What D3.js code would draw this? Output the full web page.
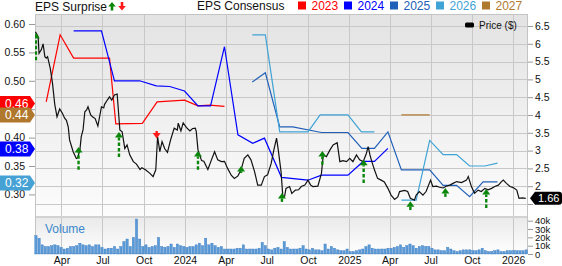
<!DOCTYPE html>
<html>
<head>
<meta charset="utf-8">
<script src="https://cdn.jsdelivr.net/npm/d3@7"></script>
<style>
body { margin: 0; background: #fff; }
svg { display: block; font-family: "Liberation Sans", Arial, sans-serif; }
</style>
</head>
<body>
<svg id="chart" width="562" height="266"></svg>
<script>
// ---- data ----
const priceSeries = [
  ['2023-02-02', 6.34], ['2023-02-08', 6.20], ['2023-02-10', 5.73], ['2023-02-15', 5.83], ['2023-02-19', 6.00],
  ['2023-02-23', 5.64], ['2023-02-26', 5.60], ['2023-03-01', 5.64], ['2023-03-07', 5.31], ['2023-03-12', 4.89],
  ['2023-03-17', 4.30], ['2023-03-22', 3.95], ['2023-03-28', 4.17], ['2023-04-03', 4.05], ['2023-04-08', 3.91],
  ['2023-04-12', 3.85], ['2023-04-16', 3.67], ['2023-04-19', 3.30], ['2023-04-27', 2.97], ['2023-05-04', 2.78],
  ['2023-05-07', 2.80], ['2023-05-12', 3.02], ['2023-05-15', 3.39], ['2023-05-19', 3.58], ['2023-05-23', 4.09],
  ['2023-05-27', 4.14], ['2023-05-30', 4.23], ['2023-06-05', 4.00], ['2023-06-09', 3.95], ['2023-06-15', 3.90],
  ['2023-06-21', 3.69], ['2023-06-29', 4.23], ['2023-07-04', 4.20], ['2023-07-06', 4.30], ['2023-07-12', 4.42],
  ['2023-07-17', 4.51], ['2023-07-22', 4.42], ['2023-07-28', 4.56], ['2023-08-03', 4.59], ['2023-08-09', 3.58],
  ['2023-08-14', 3.53], ['2023-08-20', 3.06], ['2023-08-25', 3.16], ['2023-08-31', 2.88], ['2023-09-08', 2.69],
  ['2023-09-15', 2.62], ['2023-09-23', 2.47], ['2023-09-27', 2.52], ['2023-10-05', 2.46], ['2023-10-15', 2.36],
  ['2023-10-22', 2.27], ['2023-10-28', 2.46], ['2023-11-01', 3.39], ['2023-11-06', 2.97], ['2023-11-11', 3.25],
  ['2023-11-17', 3.05], ['2023-11-23', 2.95], ['2023-11-30', 3.30], ['2023-12-08', 3.63], ['2023-12-15', 3.58],
  ['2023-12-17', 3.77], ['2023-12-23', 3.55], ['2023-12-28', 3.78], ['2024-01-04', 3.65], ['2024-01-12', 3.55],
  ['2024-01-18', 3.62], ['2024-01-24', 3.63], ['2024-01-26', 3.55], ['2024-01-30', 3.02], ['2024-02-07', 2.72],
  ['2024-02-12', 2.70], ['2024-02-21', 2.47], ['2024-02-29', 2.74], ['2024-03-07', 2.97], ['2024-03-14', 2.74],
  ['2024-03-22', 2.69], ['2024-03-29', 2.70], ['2024-04-05', 2.50], ['2024-04-13', 2.31], ['2024-04-20', 2.22],
  ['2024-04-28', 2.29], ['2024-05-05', 2.46], ['2024-05-12', 2.78], ['2024-05-20', 2.88], ['2024-05-27', 2.74],
  ['2024-06-04', 2.41], ['2024-06-11', 2.03], ['2024-06-19', 2.03], ['2024-06-26', 2.27], ['2024-07-03', 2.32],
  ['2024-07-11', 2.64], ['2024-07-17', 3.02], ['2024-07-23', 3.35], ['2024-07-27', 3.00], ['2024-08-02', 2.41],
  ['2024-08-06', 1.70], ['2024-08-10', 1.72], ['2024-08-13', 1.94], ['2024-08-21', 1.99], ['2024-08-26', 1.80],
  ['2024-09-03', 1.89], ['2024-09-10', 1.90], ['2024-09-16', 1.99], ['2024-09-24', 2.03], ['2024-10-01', 2.17],
  ['2024-10-07', 2.03], ['2024-10-12', 1.99], ['2024-10-23', 2.00], ['2024-10-31', 2.36], ['2024-11-04', 2.88],
  ['2024-11-11', 2.83], ['2024-11-19', 3.02], ['2024-11-26', 3.16], ['2024-12-05', 3.22], ['2024-12-11', 2.69],
  ['2024-12-18', 2.72], ['2024-12-26', 2.69], ['2025-01-02', 2.78], ['2025-01-09', 2.69], ['2025-01-17', 2.88],
  ['2025-01-24', 2.74], ['2025-02-01', 2.69], ['2025-02-08', 2.92], ['2025-02-12', 3.11], ['2025-02-16', 2.88],
  ['2025-02-19', 2.74], ['2025-02-26', 2.46], ['2025-03-05', 2.22], ['2025-03-13', 2.17], ['2025-03-20', 2.12],
  ['2025-03-28', 1.94], ['2025-04-04', 1.75], ['2025-04-12', 1.63], ['2025-04-19', 1.70], ['2025-04-23', 1.85],
  ['2025-05-04', 1.88], ['2025-05-11', 1.85], ['2025-05-17', 1.66], ['2025-05-26', 1.61], ['2025-05-30', 1.75],
  ['2025-06-06', 1.85], ['2025-06-14', 1.75], ['2025-06-21', 1.85], ['2025-07-01', 2.17], ['2025-07-06', 1.99],
  ['2025-07-14', 2.00], ['2025-07-21', 1.97], ['2025-07-29', 1.95], ['2025-08-05', 2.00], ['2025-08-13', 2.03],
  ['2025-08-20', 2.08], ['2025-08-28', 2.13], ['2025-09-08', 2.10], ['2025-09-19', 2.17], ['2025-09-23', 2.27],
  ['2025-09-30', 1.99], ['2025-10-07', 1.80], ['2025-10-15', 1.89], ['2025-10-22', 1.85], ['2025-10-30', 1.94],
  ['2025-11-06', 1.90], ['2025-11-14', 1.94], ['2025-11-21', 1.99], ['2025-11-29', 2.03], ['2025-12-06', 2.13],
  ['2025-12-10', 2.17], ['2025-12-17', 2.08], ['2025-12-25', 1.99], ['2026-01-01', 1.96], ['2026-01-09', 1.89],
  ['2026-01-14', 1.66], ['2026-01-21', 1.67], ['2026-01-29', 1.66]
];

// consensus EPS per fiscal year
const eps2023 = [
  ['2023-02-26', 0.463], ['2023-03-29', 0.581], ['2023-04-28', 0.540], ['2023-07-17', 0.540], ['2023-07-31', 0.424],
  ['2023-09-28', 0.425], ['2023-10-31', 0.463], ['2023-12-31', 0.466], ['2024-01-30', 0.456], ['2024-02-25', 0.457],
  ['2024-03-29', 0.455]
];
const eps2024 = [
  ['2023-04-28', 0.588], ['2023-06-29', 0.588], ['2023-07-28', 0.500], ['2023-09-22', 0.500], ['2023-10-29', 0.491],
  ['2023-11-28', 0.490], ['2023-12-31', 0.482], ['2024-01-30', 0.456], ['2024-02-27', 0.456], ['2024-03-29', 0.560],
  ['2024-04-28', 0.405], ['2024-05-31', 0.390], ['2024-06-26', 0.399], ['2024-08-03', 0.330], ['2024-10-01', 0.325],
  ['2024-10-31', 0.334], ['2024-12-29', 0.334], ['2025-02-01', 0.358], ['2025-02-26', 0.358], ['2025-03-28', 0.381]
];
const eps2025 = [
  ['2024-05-30', 0.498], ['2024-06-28', 0.514], ['2024-07-30', 0.419], ['2024-08-28', 0.419], ['2024-10-31', 0.409],
  ['2024-12-29', 0.409], ['2025-01-29', 0.381], ['2025-02-26', 0.381], ['2025-03-28', 0.410], ['2025-04-27', 0.343],
  ['2025-06-29', 0.343], ['2025-07-29', 0.316], ['2025-08-28', 0.316], ['2025-09-26', 0.296], ['2025-10-26', 0.322],
  ['2025-11-27', 0.322]
];
const eps2026 = [
  ['2024-05-30', 0.581], ['2024-06-28', 0.581], ['2024-07-30', 0.410], ['2024-10-01', 0.410], ['2024-10-28', 0.440],
  ['2024-12-29', 0.440], ['2025-01-28', 0.410], ['2025-02-26', 0.410], ['2025-03-15', null],
  ['2025-04-27', 0.290], ['2025-05-30', 0.290], ['2025-06-29', 0.395], ['2025-07-29', 0.370], ['2025-08-28', 0.370],
  ['2025-09-26', 0.350], ['2025-10-30', 0.350], ['2025-11-27', 0.355]
];
const eps2027 = [['2025-04-27', 0.440], ['2025-06-29', 0.440]];

const seriesYears = ['2023', '2024', '2025', '2026', '2027'];
const seriesColors = ['#ff0000', '#0000ff', '#2160b8', '#3fa3d6', '#b07a2e'];

// latest consensus badges on the left axis
const badgeValues = [0.46, 0.44, 0.38, 0.32];
const badgeColors = ['#ff0000', '#b0782c', '#0000ff', '#46a2d4'];

// surprise arrows: date, start price, end price, beat?
const surprises = [
  ['2023-02-03', 5.54, 6.30, true], ['2023-05-09', 2.46, 3.10, true], ['2023-08-07', 2.82, 3.52, true],
  ['2023-10-30', 3.55, 3.34, false], ['2024-01-30', 2.46, 2.99, true], ['2024-05-05', 2.37, 2.57, true],
  ['2024-08-04', 1.56, 1.81, true], ['2024-11-02', 2.60, 2.99, true], ['2025-02-02', 2.09, 2.74, true],
  ['2025-05-17', 1.33, 1.58, true], ['2025-08-03', 1.70, 1.95, true], ['2025-11-02', 1.39, 1.92, true]
];

// weekly volume, thousands of shares, starting 2023-02-03
const volumeK = [
  22, 19, 11, 9, 9, 10, 11, 10, 8, 6,
  7, 9, 9, 10, 13, 11, 10, 11, 9, 11,
  11, 8, 6, 7, 7, 9, 6, 9, 15, 18,
  9, 20, 42, 18, 9, 11, 8, 9, 10, 20,
  9, 8, 9, 12, 8, 12, 10, 9, 8, 9,
  9, 11, 13, 10, 19, 11, 13, 10, 8, 9,
  6, 6, 6, 6, 7, 7, 11, 6, 6, 6,
  6, 7, 14, 10, 6, 5, 7, 8, 6, 15,
  8, 6, 6, 6, 7, 10, 6, 5, 7, 5,
  5, 4, 12, 6, 9, 7, 5, 4, 4, 6,
  3, 3, 4, 5, 6, 9, 11, 7, 6, 6,
  6, 6, 7, 7, 8, 9, 11, 8, 10, 12,
  10, 7, 9, 10, 9, 9, 7, 5, 5, 4,
  4, 8, 6, 4, 3, 4, 5, 5, 5, 4,
  4, 5, 7, 4, 3, 3, 4, 5, 3, 3,
  4, 4, 4, 4, 4, 4, 5
];

const priceTicks = [1.5, 2, 2.5, 3, 3.5, 4, 4.5, 5, 5.5, 6, 6.5];
const epsTicks = [0.30, 0.35, 0.40, 0.45, 0.50, 0.55, 0.60];
const volumeTicks = [0, 10, 20, 30, 40];

// ---- layout ----
const plotL = 35, plotR = 528, plotT = 14, mainB = 217, volB = 254;
const parse = d3.timeParse('%Y-%m-%d');
const svg = d3.select('#chart');

const x = d3.scaleTime().domain([parse('2023-02-01'), parse('2026-02-03')]).range([plotL, plotR]);
const yPrice = d3.scaleLinear().domain([1.135, 6.837]).range([mainB, plotT]);
const yEps = d3.scaleLinear().domain([0.2602, 0.6176]).range([mainB, plotT]);
const yVol = d3.scaleLinear().domain([0, 40]).range([volB, 220.7]);

const defs = svg.append('defs');
function gradient(id, c1, c2) {
  const gr = defs.append('linearGradient').attr('id', id)
    .attr('x1', 0).attr('y1', 0).attr('x2', 0).attr('y2', 1);
  gr.append('stop').attr('offset', '0%').attr('stop-color', c1);
  gr.append('stop').attr('offset', '100%').attr('stop-color', c2);
}
gradient('bgMain', '#e3e3e3', '#fcfcfc');
gradient('bgVol', '#e9e9e9', '#ffffff');
defs.append('clipPath').attr('id', 'clipMain').append('rect')
  .attr('x', plotL).attr('y', plotT).attr('width', plotR - plotL).attr('height', mainB - plotT);

svg.append('rect').attr('x', plotL).attr('y', plotT).attr('width', plotR - plotL)
  .attr('height', mainB - plotT).attr('fill', 'url(#bgMain)');
svg.append('rect').attr('x', plotL).attr('y', mainB).attr('width', plotR - plotL)
  .attr('height', volB - mainB).attr('fill', 'url(#bgVol)');

// grid
const quarters = d3.timeMonth.every(3).range(parse('2023-04-01'), parse('2026-01-02'));
svg.append('g').selectAll('line').data(quarters).enter().append('line')
  .attr('x1', d => Math.round(x(d)) + 0.5).attr('x2', d => Math.round(x(d)) + 0.5)
  .attr('y1', plotT).attr('y2', volB)
  .attr('stroke', '#c8c8c8').attr('stroke-width', 1);
svg.append('g').selectAll('line').data(priceTicks).enter().append('line')
  .attr('x1', plotL).attr('x2', plotR)
  .attr('y1', d => Math.round(yPrice(d)) + 0.5).attr('y2', d => Math.round(yPrice(d)) + 0.5)
  .attr('stroke', '#c8c8c8').attr('stroke-width', 1);

// panel separator and borders
svg.append('line').attr('x1', plotL).attr('x2', plotR).attr('y1', mainB).attr('y2', mainB)
  .attr('stroke', '#d2d2d2').attr('stroke-width', 2);
svg.append('rect').attr('x', plotL + 0.5).attr('y', plotT + 0.5).attr('width', plotR - plotL - 1)
  .attr('height', volB - plotT - 1).attr('fill', 'none').attr('stroke', '#c4c4c4');

// volume
const weekStart = parse('2023-02-03');
const vol = volumeK.map((v, i) => ({ date: d3.timeDay.offset(weekStart, i * 7), v }));
svg.append('g').selectAll('rect').data(vol).enter().append('rect')
  .attr('x', d => x(d.date) - 1.1).attr('width', 2.3)
  .attr('y', d => yVol(d.v)).attr('height', d => yVol(0) - yVol(d.v))
  .attr('fill', '#5b9ad6').attr('stroke', '#3b7dc4').attr('stroke-width', 0.4);
svg.append('text').attr('x', 45).attr('y', 233).attr('font-size', 12)
  .attr('fill', '#3a88cc').text('Volume');

// EPS consensus lines
const plot = svg.append('g').attr('clip-path', 'url(#clipMain)');
const epsLine = d3.line().defined(d => d[1] != null)
  .x(d => x(parse(d[0]))).y(d => yEps(d[1]));
[eps2023, eps2024, eps2025, eps2026, eps2027].forEach((s, i) => {
  plot.append('path').datum(s).attr('d', epsLine)
    .attr('fill', 'none').attr('stroke', seriesColors[i]).attr('stroke-width', 1.2);
});

// price line
const priceLine = d3.line().x(d => x(parse(d[0]))).y(d => yPrice(d[1]));
plot.append('path').datum(priceSeries).attr('d', priceLine)
  .attr('fill', 'none').attr('stroke', '#111').attr('stroke-width', 1.2);

// surprise arrows
surprises.forEach(([d, from, to, beat]) => {
  const ax = x(parse(d)), y0 = yPrice(from), y1 = yPrice(to);
  const col = beat ? '#0a860a' : '#ff1a1a';
  const dir = y1 < y0 ? 1 : -1; // 1 = pointing up
  const headBase = y1 + dir * 5.5;
  plot.append('line').attr('x1', ax).attr('x2', ax).attr('y1', y0).attr('y2', headBase)
    .attr('stroke', col).attr('stroke-width', 2.4)
    .attr('stroke-dasharray', beat ? '3.5,2' : null);
  plot.append('path')
    .attr('d', `M${ax},${y1} L${ax - 4},${headBase} L${ax + 4},${headBase} Z`)
    .attr('fill', col);
});

// axes (labels that sit under a badge are left out, as in the reference)
function styleAxis(size) {
  return g => {
    g.select('.domain').remove();
    g.selectAll('.tick line').attr('stroke', '#999');
    g.selectAll('.tick text').attr('fill', '#111').attr('font-size', size)
      .attr('font-family', '"Liberation Sans", Arial, sans-serif');
  };
}
const hiddenEps = [0.45], hiddenPrice = [1.5];
svg.append('g').attr('transform', `translate(${plotL},0)`)
  .call(d3.axisLeft(yEps).tickValues(epsTicks)
    .tickFormat(d => hiddenEps.includes(d) ? '' : d3.format('.2f')(d)).tickSize(6).tickPadding(4))
  .call(styleAxis(10.5));
svg.append('g').attr('transform', `translate(${plotR},0)`)
  .call(d3.axisRight(yPrice).tickValues(priceTicks)
    .tickFormat(d => hiddenPrice.includes(d) ? '' : d3.format('~g')(d)).tickSize(5).tickPadding(2))
  .call(styleAxis(10.5));
svg.append('g').attr('transform', `translate(${plotR},0)`)
  .call(d3.axisRight(yVol).tickValues(volumeTicks).tickFormat(d => d === 0 ? '0' : d + 'k').tickSize(5).tickPadding(2))
  .call(styleAxis(9.5));
const monthFmt = d3.timeFormat('%b'), yearFmt = d3.timeFormat('%Y');
svg.append('g').attr('transform', `translate(0,${volB})`)
  .call(d3.axisBottom(x).tickValues(quarters)
    .tickFormat(d => d.getMonth() === 0 ? yearFmt(d) : monthFmt(d)).tickSize(0).tickPadding(3))
  .call(styleAxis(10.5));

// left badges
badgeValues.forEach((v, i) => {
  const by = yEps(v);
  svg.append('path')
    .attr('d', `M0,${by - 7.5} H30 L35,${by} L30,${by + 7.5} H0 Z`)
    .attr('fill', badgeColors[i]);
  svg.append('text').attr('x', 5).attr('y', by + 4.2).attr('font-size', 12)
    .attr('fill', '#fff').text(d3.format('.2f')(v));
});

// last price badge
const last = priceSeries[priceSeries.length - 1];
const py = yPrice(last[1]);
svg.append('path')
  .attr('d', `M530,${py} L535,${py - 6.5} H559 Q562,${py - 6.5} 562,${py - 3.5} V${py + 3.5} Q562,${py + 6.5} 559,${py + 6.5} H535 Z`)
  .attr('fill', '#000');
svg.append('text').attr('x', 538).attr('y', py + 4).attr('font-size', 11)
  .attr('fill', '#fff').text(d3.format('.2f')(last[1]));

// titles and legend
svg.append('text').attr('x', 35).attr('y', 10.5).attr('font-size', 12).attr('fill', '#111').text('EPS Surprise');
svg.append('path').attr('d', 'M112,2 L115.8,6.5 L113.3,6.5 L113.3,10.5 L110.7,10.5 L110.7,6.5 L108.2,6.5 Z').attr('fill', '#0a860a');
svg.append('path').attr('d', 'M122,10.5 L118.2,6 L120.7,6 L120.7,2 L123.3,2 L123.3,6 L125.8,6 Z').attr('fill', '#ff1a1a');
svg.append('text').attr('x', 197).attr('y', 10).attr('font-size', 12).attr('fill', '#111').text('EPS Consensus');
const legend = svg.append('g').selectAll('g').data(seriesYears).enter().append('g')
  .attr('transform', (d, i) => `translate(${298 + i * 46},0)`);
legend.append('rect').attr('x', 0).attr('y', 1.5).attr('width', 8).attr('height', 8)
  .attr('fill', (d, i) => seriesColors[i]);
legend.append('text').attr('x', 13.5).attr('y', 10).attr('font-size', 12)
  .attr('fill', (d, i) => seriesColors[i]).text(d => d);

svg.append('rect').attr('x', 465).attr('y', 22.5).attr('width', 9).attr('height', 5).attr('rx', 1.5).attr('fill', '#000');
svg.append('text').attr('x', 479).attr('y', 28.5).attr('font-size', 10).attr('fill', '#111').text('Price ($)');
</script>
</body>
</html>
